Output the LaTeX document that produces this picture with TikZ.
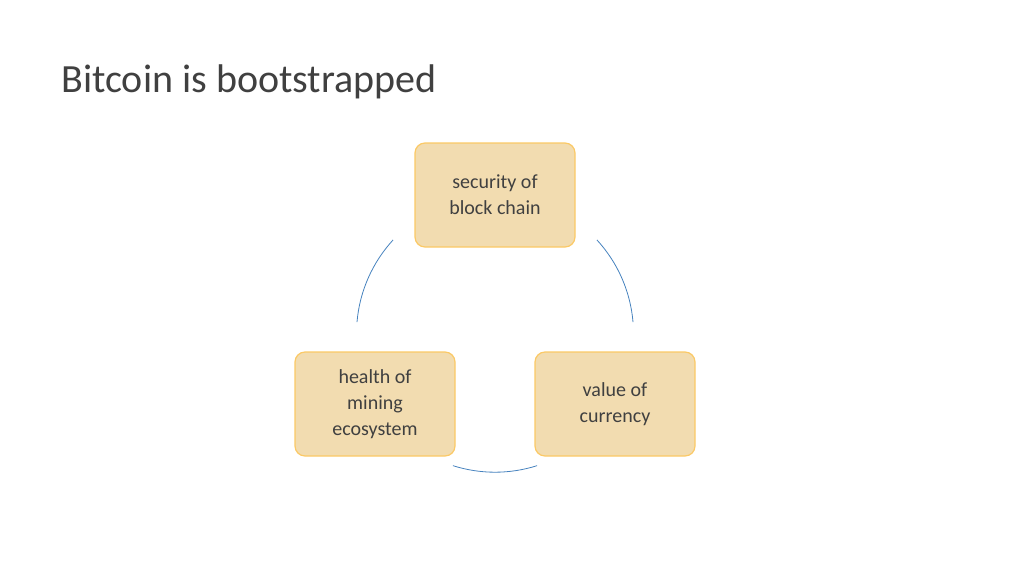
\documentclass[tikz,border=0pt]{standalone}
\usepackage{fontspec}
\setmainfont{Carlito}
\begin{document}
\begin{tikzpicture}[x=1pt,y=1pt,
  box/.style={draw=white!70!yellow!60!orange, line width=1.2pt, fill={rgb,255:red,242;green,220;blue,176}, rounded corners=10pt, minimum width=160pt, minimum height=104pt, align=center, font=\fontsize{20}{26}\selectfont, text={rgb,255:red,64;green,64;blue,64}},
  link/.style={draw={rgb,255:red,70;green,130;blue,190}, line width=0.8pt}]
\useasboundingbox (0,0) rectangle (1024,-576);
\node[anchor=west, font=\fontsize{40}{48}\selectfont, text={rgb,255:red,64;green,64;blue,64}] (title) at (58,-82) {Bitcoin is bootstrapped};
\node[box] (top) at (495,-195) {security of\\block chain};
\node[box] (left) at (375,-404) {health of\\mining\\ecosystem};
\node[box] (right) at (615,-404) {value of\\currency};
\coordinate (c) at (495,-333.7);
\draw[link] (c) ++(137.4:138.5) arc (137.4:175.2:138.5);
\draw[link] (c) ++(42.6:138.5) arc (42.6:4.8:138.5);
\draw[link] (c) ++(252.3:138.5) arc (252.3:287.7:138.5);
\end{tikzpicture}
\end{document}
